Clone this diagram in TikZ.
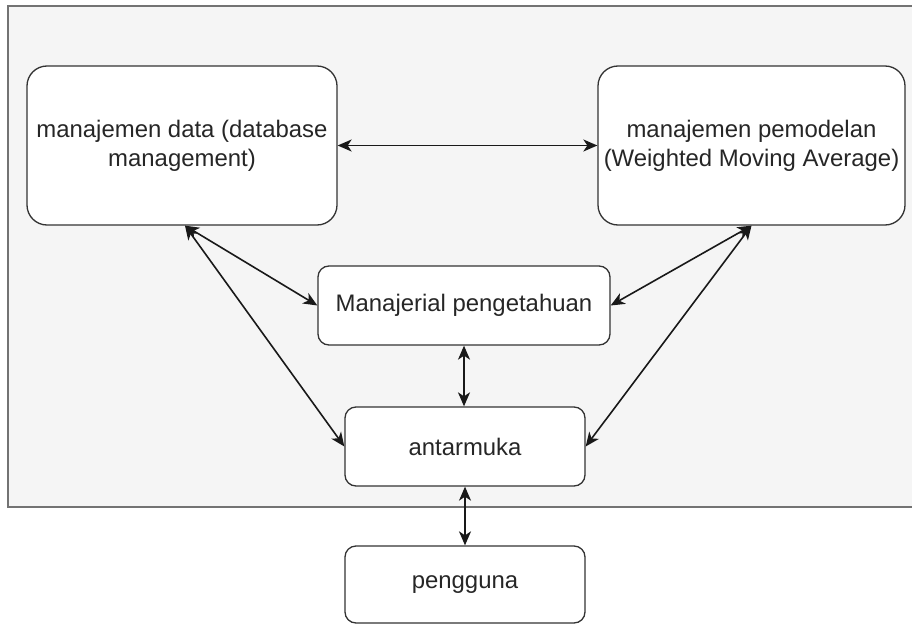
\documentclass[tikz,border=0pt]{standalone}
\usepackage{fontspec}
\setmainfont{Liberation Sans}
\usepackage{tikz}
\usetikzlibrary{arrows.meta,shapes}

\tikzset{
  box/.style={draw=black!80,line width=1.3bp,rounded corners=20bp,fill=white,align=center,text=black!85,inner sep=0pt,font=\fontsize{24}{29}\selectfont},
  smallbox/.style={box,rounded corners=11bp},
  link/.style={{Stealth[length=14bp,width=12bp,inset=4bp]}-{Stealth[length=14bp,width=12bp,inset=4bp]},line width=1.6bp,black!90}
}

\begin{document}
\begin{tikzpicture}

\useasboundingbox (0bp,0bp) rectangle (912bp,-624bp);
\draw [fill=black!4,draw=black!55,line width=1.3bp] (8bp,-6bp) rectangle (916bp,-507bp);

\node (data) at (182bp,-145.5bp)[box,minimum width=310bp,minimum height=159bp] {manajemen data (database\\management)};
\node (model) at (751.5bp,-145.5bp)[box,minimum width=307bp,minimum height=159bp] {manajemen pemodelan\\(Weighted Moving Average)};
\node (know) at (464bp,-305.5bp)[smallbox,minimum width=292bp,minimum height=79bp] {Manajerial pengetahuan};
\node (ui) at (465bp,-446.5bp)[smallbox,minimum width=240bp,minimum height=79bp] {antarmuka};
\node (user) at (465bp,-584.5bp)[smallbox,minimum width=240bp,minimum height=77bp] {pengguna};

\draw [link] (data) -- (model);
\draw [link] ([xshift=3bp]data.south) -- (know.west);
\draw [link] ([xshift=3bp]data.south) -- (ui.west);
\draw [link] (model.south) -- (know.east);
\draw [link] (model.south) -- (ui.east);
\draw [link] (know.south) -- (know.south |- ui.north);
\draw [link] (ui.south) -- (user.north);
\end{tikzpicture}
\end{document}
